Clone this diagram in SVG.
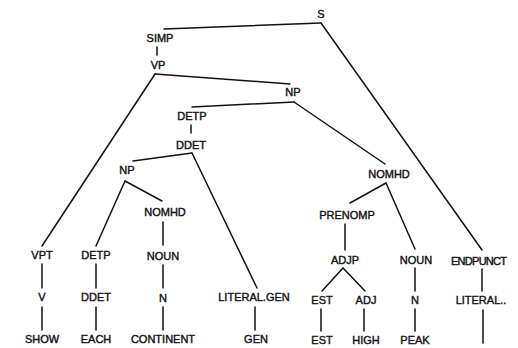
<svg xmlns="http://www.w3.org/2000/svg" width="518" height="348" viewBox="0 0 518 348">
<style>
text{font-family:"Liberation Sans",Arial,sans-serif;font-size:11px;fill:#111;text-anchor:middle;stroke:#111;stroke-width:0.4}
.e{stroke:#111;stroke-width:1.5;fill:none;stroke-linecap:round}
</style>
<rect width="518" height="348" fill="#fff"/>
<g id="connectors">
<path class="e" d="M321,23 L164,29"/>
<path class="e" d="M321,23 L482,250"/>
<path class="e" d="M157,47 L157,55"/>
<path class="e" d="M155,74 L290,84"/>
<path class="e" d="M155,74 L42,246"/>
<path class="e" d="M294,102 L192,107"/>
<path class="e" d="M294,102 L385,164"/>
<path class="e" d="M191,125 L191,133"/>
<path class="e" d="M192,153 L133,161"/>
<path class="e" d="M192,153 L257,288"/>
<path class="e" d="M125,181 L96,246"/>
<path class="e" d="M125,181 L162,201"/>
<path class="e" d="M163,222 L163,245"/>
<path class="e" d="M163,265 L163,288"/>
<path class="e" d="M163,307 L163,330"/>
<path class="e" d="M42,264 L42,288"/>
<path class="e" d="M42,307 L42,330"/>
<path class="e" d="M96,264 L96,288"/>
<path class="e" d="M96,307 L96,330"/>
<path class="e" d="M255,307 L255,330"/>
<path class="e" d="M386,183 L350,203"/>
<path class="e" d="M386,183 L415,249"/>
<path class="e" d="M345,224 L345,250"/>
<path class="e" d="M343,268 L322,291"/>
<path class="e" d="M343,268 L365,291"/>
<path class="e" d="M321,309 L321,331"/>
<path class="e" d="M364,309 L364,331"/>
<path class="e" d="M415,268 L415,291"/>
<path class="e" d="M415,309 L415,331"/>
<path class="e" d="M482,269 L482,291"/>
<path class="e" d="M483,310 L483,343"/>
</g>
<g id="n-S"><text x="321" y="18">S</text></g>
<g id="n-SIMP"><text x="160" y="42">SIMP</text></g>
<g id="n-VP"><text x="158" y="69">VP</text></g>
<g id="n-NP1"><text x="293" y="96">NP</text></g>
<g id="n-DETP1"><text x="192" y="120">DETP</text></g>
<g id="n-DDET1"><text x="191" y="149">DDET</text></g>
<g id="n-NP2"><text x="127" y="174">NP</text></g>
<g id="n-NOMHD1"><text x="165" y="216">NOMHD</text></g>
<g id="n-NOMHD2"><text x="389" y="178">NOMHD</text></g>
<g id="n-PRENOMP"><text x="347" y="219">PRENOMP</text></g>
<g id="n-ADJP"><text x="345" y="264">ADJP</text></g>
<g id="n-VPT"><text x="42" y="259">VPT</text></g>
<g id="n-V"><text x="42" y="301">V</text></g>
<g id="n-SHOW"><text x="42" y="343">SHOW</text></g>
<g id="n-DETP2"><text x="96" y="259">DETP</text></g>
<g id="n-DDET2"><text x="96" y="301">DDET</text></g>
<g id="n-EACH"><text x="96" y="343">EACH</text></g>
<g id="n-NOUN1"><text x="163" y="260">NOUN</text></g>
<g id="n-N1"><text x="163" y="302">N</text></g>
<g id="n-CONTINENT"><text x="163" y="343">CONTINENT</text></g>
<g id="n-LITGEN"><text x="254" y="301">LITERAL.GEN</text></g>
<g id="n-GEN"><text x="256" y="343">GEN</text></g>
<g id="n-EST1"><text x="322" y="304">EST</text></g>
<g id="n-EST2"><text x="322" y="344">EST</text></g>
<g id="n-ADJ"><text x="366" y="304">ADJ</text></g>
<g id="n-HIGH"><text x="366" y="344">HIGH</text></g>
<g id="n-NOUN2"><text x="416" y="264">NOUN</text></g>
<g id="n-N2"><text x="415" y="304">N</text></g>
<g id="n-PEAK"><text x="415" y="344">PEAK</text></g>
<g id="n-ENDPUNCT"><text x="479" y="265" textLength="56">ENDPUNCT</text></g>
<g id="n-LITERAL"><text x="481" y="304">LITERAL..</text></g>
</svg>
